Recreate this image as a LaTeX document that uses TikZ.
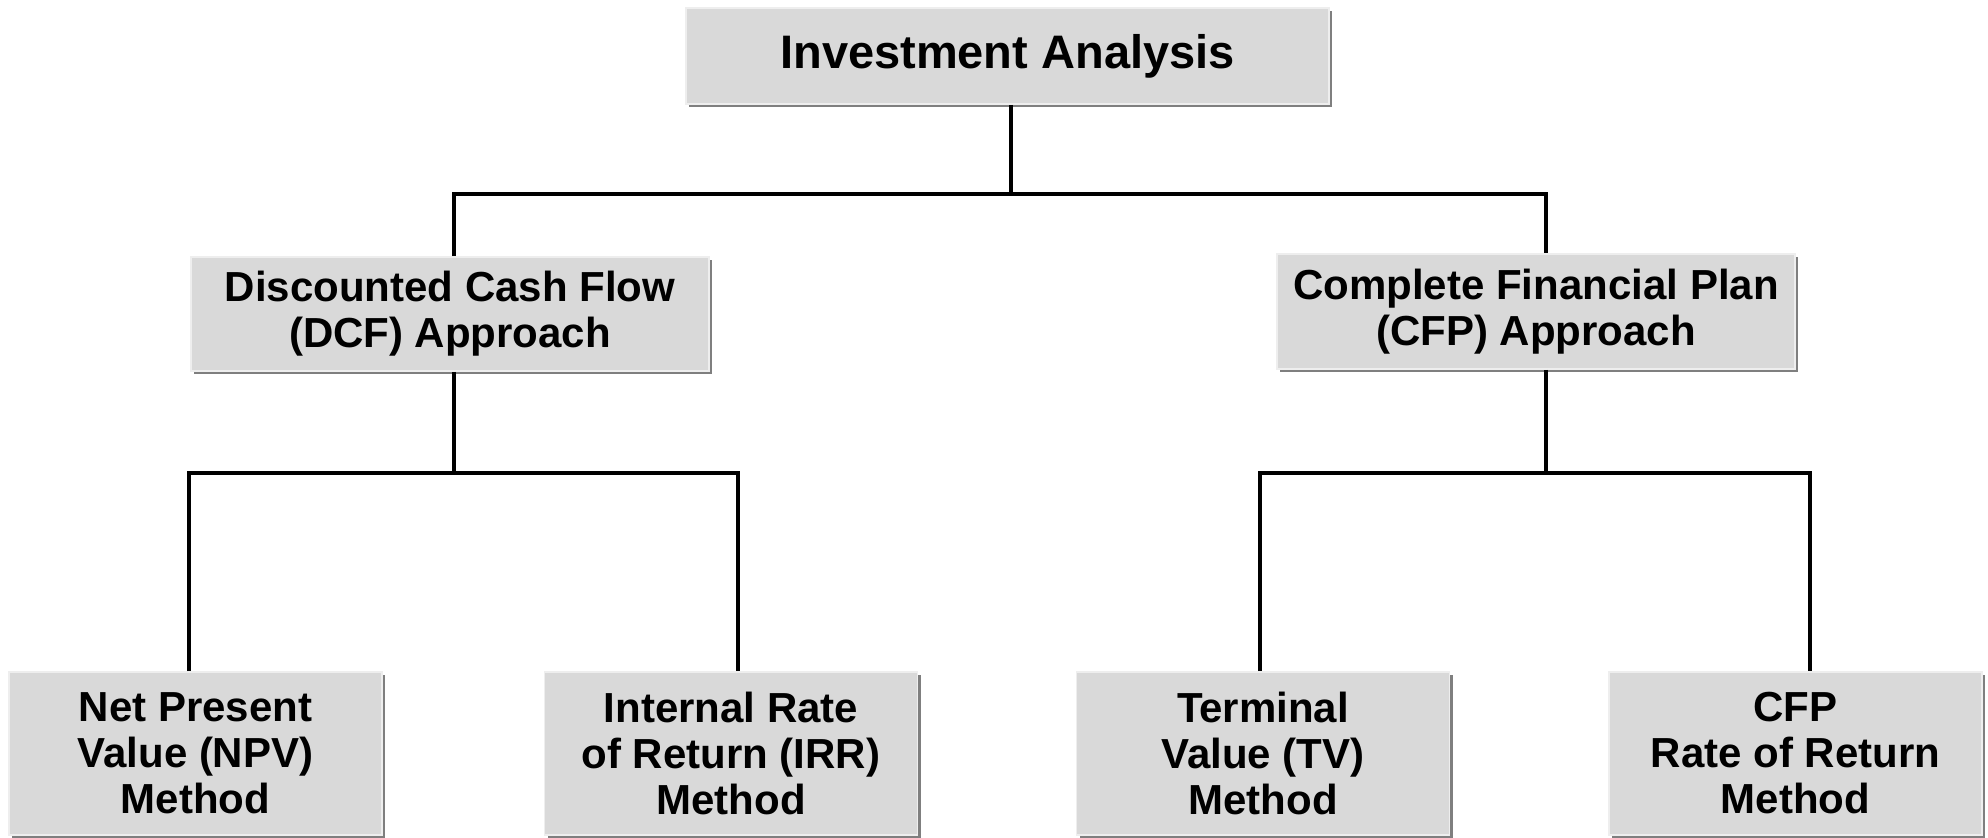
\documentclass[tikz,border=0pt]{standalone}
\usepackage{fontspec}
\setmainfont{Liberation Sans}
\usepackage{tikz}
\usetikzlibrary{shadows}
\definecolor{boxgray}{HTML}{D9D9D9}
\definecolor{shadegray}{HTML}{7F7F7F}
\definecolor{edgegray}{HTML}{EEEEEE}
\tikzset{
    box/.style={
           rectangle,
           fill=boxgray,
           draw=edgegray, line width=0.8pt,
           drop shadow={shadow xshift=1.6pt,shadow yshift=-1.6pt,fill=shadegray,opacity=1},
           inner sep=0pt,
           align=center,
           font=\fontsize{21}{23}\selectfont\bfseries,
           },
}
\tikzset{
    link/.style={
           draw=black,
           line width=2pt,
           line join=miter,
           },
}

\begin{document}
\begin{tikzpicture}
\useasboundingbox (0,0) rectangle (994pt,418.5pt);
\node[box,minimum width=321.5pt,minimum height=48pt,font=\fontsize{23.5}{25}\selectfont\bfseries] (ia) at (503.75pt,390.5pt) {Investment Analysis};
\node[box,minimum width=259pt,minimum height=57pt] (dcf) at (225pt,261.5pt) {Discounted Cash Flow\\(DCF) Approach};
\node[box,minimum width=259pt,minimum height=57.5pt] (cfp) at (768pt,262.75pt) {Complete Financial Plan\\(CFP) Approach};
\node[box,minimum width=186.5pt,minimum height=81.5pt] (npv) at (97.75pt,41.75pt) {Net Present\\Value (NPV)\\Method};
\node[box,minimum width=186.5pt,minimum height=81.5pt] (irr) at (365.5pt,41.75pt) {Internal Rate\\of Return (IRR)\\Method};
\node[box,minimum width=186.5pt,minimum height=81.5pt] (tv) at (631.5pt,41.75pt) {Terminal\\Value (TV)\\Method};
\node[box,minimum width=186.5pt,minimum height=81.5pt] (ror) at (897.75pt,41.75pt) {CFP\\Rate of Return\\Method};
% branch levels and attach points
\coordinate (topbar) at (0,321.5pt);
\coordinate (lowbar) at (0,182pt);
\coordinate (iabot) at ([xshift=1.5pt]ia.south);
\coordinate (dcftop) at ([xshift=2pt]dcf.north);
\coordinate (dcfbot) at ([xshift=2pt]dcf.south);
\coordinate (cfptop) at ([xshift=5pt]cfp.north);
\coordinate (cfpbot) at ([xshift=5pt]cfp.south);
\coordinate (npvtop) at ([xshift=-3.25pt]npv.north);
\coordinate (irrtop) at ([xshift=3.5pt]irr.north);
\coordinate (tvtop) at ([xshift=-1.5pt]tv.north);
\coordinate (rortop) at ([xshift=7pt]ror.north);
\draw[link] (iabot) -- (iabot |- topbar);
\draw[link] (dcftop) |- (topbar -| cfptop) -- (cfptop);
\draw[link] (dcfbot) -- (dcfbot |- lowbar);
\draw[link] (npvtop) |- (lowbar -| irrtop) -- (irrtop);
\draw[link] (cfpbot) -- (cfpbot |- lowbar);
\draw[link] (tvtop) |- (lowbar -| rortop) -- (rortop);
\end{tikzpicture}
\end{document}
